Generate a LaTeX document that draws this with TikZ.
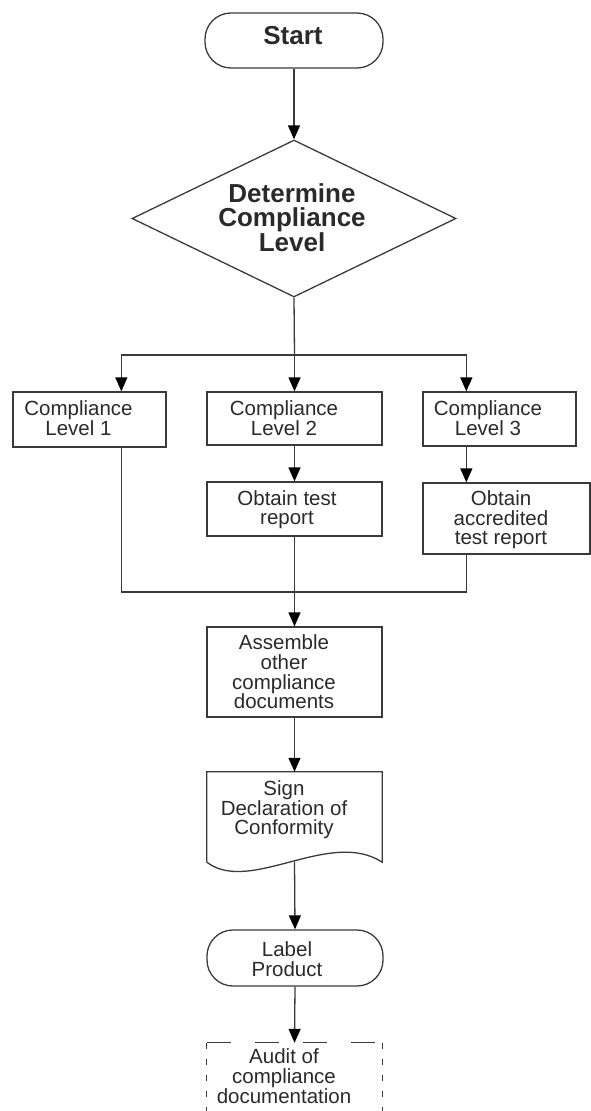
\documentclass[tikz,border=0pt]{standalone}
\usepackage{fontspec}
\setmainfont{Liberation Sans}
\usetikzlibrary{arrows.meta,shapes.geometric}
\definecolor{ln}{HTML}{3A3A3A}
\definecolor{tx}{HTML}{2A2A2A}
\newcommand\bxfont{\fontsize{20.5}{19.7}\selectfont}
\newcommand\bigfont{\fontsize{26}{24}\selectfont\bfseries}
\tikzset{
  box/.style={draw=ln, line width=1.3pt, rectangle, inner sep=0pt},
  term/.style={draw=ln, line width=1.3pt, rectangle, rounded corners=26pt, inner sep=0pt},
  txt/.style={inner sep=0pt, align=center, font=\bxfont, text=tx},
  bigtxt/.style={inner sep=0pt, align=center, font=\bigfont, text=tx},
  conn/.style={draw=ln, line width=1.3pt},
  arr/.style={conn, -{Triangle[width=12pt,length=14pt,color=black]}}
}
\begin{document}
\begin{tikzpicture}[x=1pt,y=-1pt]
\useasboundingbox (0,0) rectangle (591,1111);
\clip (0,0) rectangle (591,1111);
% shapes
\node[term, minimum width=178pt, minimum height=55pt] (st) at (294,40.5) {};
\node[bigtxt] (stt) at (293,36) {Start};
\node[draw=ln, line width=1.3pt, diamond, inner sep=0pt, minimum width=324pt, minimum height=157pt] (det) at (294,218.5) {};
\node[bigtxt] (dett) at (292,218) {Determine\\Compliance\\Level};
\node[box, minimum width=153pt, minimum height=55pt] (L1) at (89.5,419.5) {};
\node[txt] (L1t) at (78.5,418.5) {Compliance\\Level 1};
\node[box, minimum width=175pt, minimum height=53pt] (L2) at (294.5,418.5) {};
\node[txt] (L2t) at (284,418.5) {Compliance\\Level 2};
\node[box, minimum width=153pt, minimum height=54pt] (L3) at (499.5,419) {};
\node[txt] (L3t) at (488,418.5) {Compliance\\Level 3};
\node[box, minimum width=175pt, minimum height=54pt] (OT) at (294.5,509) {};
\node[txt] (OTt) at (287,509.7) {Obtain test\\report};
\node[box, minimum width=167pt, minimum height=71pt] (OA) at (506.5,518.5) {};
\node[txt] (OAt) at (501,519.7) {Obtain\\accredited\\test report};
\node[box, minimum width=175pt, minimum height=90pt] (AS) at (294.5,672) {};
\node[txt] (ASt) at (284,672) {Assemble\\other\\compliance\\documents};
% document shape
\node[inner sep=0pt, minimum width=175pt, minimum height=90pt] (sg) at (294.5,817) {};
\draw[ln, line width=1.3pt] (sg.south west) -- (sg.north west) -- (sg.north east) -- (sg.south east)
  .. controls (330,828) and (250,895) .. (sg.south west);
\coordinate (sgb) at (294.5,861.6);
\node[txt] (sgt) at (284,809.7) {Sign\\Declaration of\\Conformity};
\node[term, minimum width=176pt, minimum height=56pt] (LP) at (295,958) {};
\node[txt] (LPt) at (287,959) {Label\\Product};
% dashed box
\node[inner sep=0pt, minimum width=175pt, minimum height=100pt] (AU) at (294.5,1093) {};
\draw[ln, line width=1.3pt, dash pattern=on 24pt off 24pt] (AU.north west) -- (AU.north east);
\draw[ln, line width=1.3pt, dash pattern=on 6pt off 10pt] (AU.north west) -- (AU.south west);
\draw[ln, line width=1.3pt, dash pattern=on 6pt off 10pt] (AU.north east) -- (AU.south east);
\node[txt] (AUt) at (284,1076) {Audit of\\compliance\\documentation};
% connectors
\coordinate (sp) at (294.5,355);
\coordinate (jn) at (294.5,592);
\draw[arr] (st.south) -- (det.north);
\draw[conn] (det.south) -- (sp);
\draw[arr] (sp) -- (L2.north);
\draw[arr] (sp) -| ([xshift=109pt]L1.north west);
\draw[arr] (sp) -| ([xshift=44pt]L3.north west);
\draw[arr] (L2.south) -- (OT.north);
\draw[arr] ([xshift=44pt]L3.south west) -- ([xshift=44pt]OA.north west);
\draw[conn] ([xshift=109pt]L1.south west) |- (jn) -| ([xshift=44pt]OA.south west);
\draw[arr] (OT.south) -- (AS.north);
\draw[arr] (AS.south) -- (sg.north);
\draw[arr] (sgb) -- (LP.north);
\draw[arr] (LP.south) -- (AU.north);
\end{tikzpicture}
\end{document}
